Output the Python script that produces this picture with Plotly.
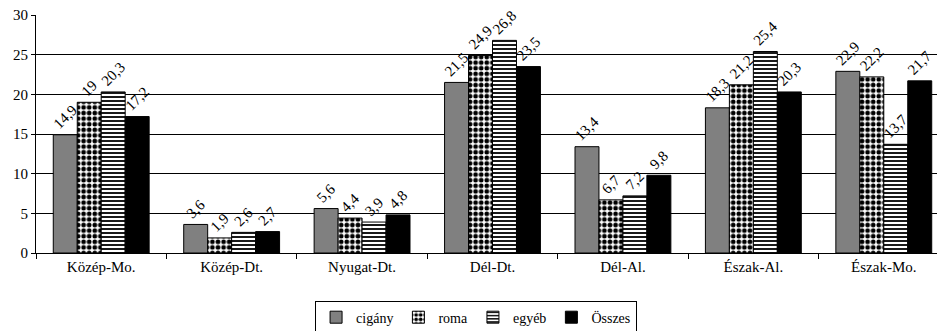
import plotly.graph_objects as go

categories = ["Közép-Mo.", "Közép-Dt.", "Nyugat-Dt.", "Dél-Dt.", "Dél-Al.", "Észak-Al.", "Észak-Mo."]
series_names = ["cigány", "roma", "egyéb", "Összes"]
cigany = [14.9, 3.6, 5.6, 21.5, 13.4, 18.3, 22.9]
roma = [19, 1.9, 4.4, 24.9, 6.7, 21.2, 22.2]
egyeb = [20.3, 2.6, 3.9, 26.8, 7.2, 25.4, 13.7]
osszes = [17.2, 2.7, 4.8, 23.5, 9.8, 20.3, 21.7]
y_ticks = [0, 5, 10, 15, 20, 25, 30]

def fmt(v):
    s = ("%g" % v)
    return s.replace(".", ",")

font_family = "Liberation Serif"

styles = [
    dict(color="#808080", pattern=None),
    dict(color="white", pattern=dict(shape=".", fgcolor="black", bgcolor="white", size=5.6, solidity=0.55, fillmode="replace")),
    dict(color="white", pattern=dict(shape="-", fgcolor="black", bgcolor="white", size=4, solidity=0.45, fillmode="replace")),
    dict(color="black", pattern=None),
]

fig = go.Figure()
for name, vals, st in zip(series_names, [cigany, roma, egyeb, osszes], styles):
    marker = dict(color=st["color"], line=dict(color="black", width=1))
    if st["pattern"]:
        marker["pattern"] = st["pattern"]
    fig.add_trace(go.Bar(
        x=categories, y=vals, name=name, marker=marker,
        text=[fmt(v) for v in vals], textposition="outside", textangle=-45,
        textfont=dict(family=font_family, size=15, color="black"),
        cliponaxis=False, constraintext="none",
    ))

# page body has an 8px margin, so margins are offset to land the plot at the reference position
fig.update_layout(
    width=945, height=331,
    margin=dict(l=28, r=4, t=7, b=86, autoexpand=False),
    paper_bgcolor="white", plot_bgcolor="white",
    barmode="group", bargap=0.265, bargroupgap=0,
    font=dict(family=font_family, size=15, color="black"),
    showlegend=True,
    legend=dict(orientation="h", x=0.482, xanchor="center", y=-0.2, yanchor="top",
                bordercolor="black", borderwidth=1,
                font=dict(family=font_family, size=14, color="black"),
                itemwidth=30, tracegroupgap=0),
)
fig.update_xaxes(showline=True, linecolor="black", linewidth=1, ticks="outside",
                 tickson="boundaries", ticklen=5, tickcolor="black", showgrid=False,
                 tickfont=dict(family=font_family, size=15, color="black"), automargin=False)
fig.update_yaxes(range=[0, 30], tickvals=y_ticks, showline=True, linecolor="black",
                 linewidth=1, ticks="outside", ticklen=4, tickcolor="black",
                 showgrid=True, gridcolor="black", gridwidth=1, zeroline=False,
                 ticklabeloverflow="allow",
                 tickfont=dict(family=font_family, size=15, color="black"), automargin=False)

fig.write_html("out.html")
